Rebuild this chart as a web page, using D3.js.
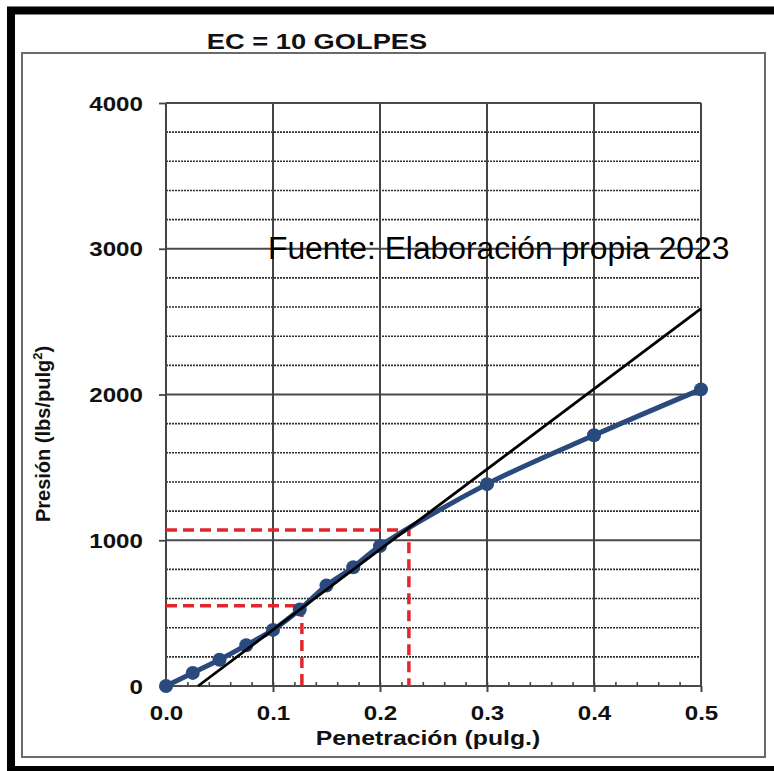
<!DOCTYPE html>
<html>
<head>
<meta charset="utf-8">
<script src="https://cdn.jsdelivr.net/npm/d3@7"></script>
<style>
  html, body { margin: 0; padding: 0; background: #fff; }
  svg { display: block; font-family: 'Liberation Sans', Arial, sans-serif; }
</style>
</head>
<body>
<div class="chart"></div>
<script>
// values
const penetracion = [0, 0.025, 0.05, 0.075, 0.1, 0.125, 0.15, 0.175, 0.2, 0.3, 0.4, 0.5]
const presion = [0, 90, 180, 280, 385, 525, 690, 815, 960, 1385, 1720, 2035]
const tangenteX = [0.03, 0.5]
const tangenteY = [0, 2590]
// red dashed correction marks: [penetration, pressure]
const marcas = [[0.127, 550], [0.227, 1070]]
const xTicks = [0, 0.1, 0.2, 0.3, 0.4, 0.5]
const yTicks = [0, 1000, 2000, 3000, 4000]

const title = 'EC = 10 GOLPES'
const xTitle = 'Penetración (pulg.)'
const fuente = 'Fuente: Elaboración propia 2023'

;(function init() {
  const width = 774
  const height = 771
  const plot = { left: 166, right: 701, top: 103, bottom: 686 }
  const stretch = 1.24 // the source image is a little wider than tall
  const blue = '#2a4a7d'
  const red = '#e3262c'

  const x = d3.scaleLinear().domain([0, 0.5]).range([plot.left, plot.right])
  const y = d3.scaleLinear().domain([0, 4000]).range([plot.bottom, plot.top])

  const svg = d3
    .select('.chart')
    .append('svg')
    .attr('width', width)
    .attr('height', height)
    .attr('viewBox', [0, 0, width, height])

  // frames
  svg
    .append('rect')
    .attr('x', 11)
    .attr('y', 10.5)
    .attr('width', 820)
    .attr('height', 759.5)
    .attr('fill', 'none')
    .attr('stroke', '#000')
    .attr('stroke-width', 8)

  svg
    .append('rect')
    .attr('x', 22)
    .attr('y', 53)
    .attr('width', 743)
    .attr('height', 704)
    .attr('fill', 'none')
    .attr('stroke', '#6a6a6a')
    .attr('stroke-width', 2)

  const grid = svg.append('g')

  const yMinor = d3.range(200, 4000, 200).filter((v) => v % 1000 !== 0)
  grid
    .selectAll('.minor')
    .data(yMinor)
    .enter()
    .append('line')
    .attr('x1', plot.left)
    .attr('x2', plot.right)
    .attr('y1', (d) => y(d))
    .attr('y2', (d) => y(d))
    .attr('stroke', '#2e2e2e')
    .attr('stroke-width', 1.6)
    .attr('stroke-dasharray', '2,1')

  grid
    .selectAll('.major')
    .data(yTicks)
    .enter()
    .append('line')
    .attr('x1', plot.left)
    .attr('x2', plot.right)
    .attr('y1', (d) => y(d))
    .attr('y2', (d) => y(d))
    .attr('stroke', '#4a4a4a')
    .attr('stroke-width', 1.8)

  grid
    .selectAll('.vert')
    .data(xTicks)
    .enter()
    .append('line')
    .attr('x1', (d) => x(d))
    .attr('x2', (d) => x(d))
    .attr('y1', plot.top)
    .attr('y2', plot.bottom)
    .attr('stroke', '#444')
    .attr('stroke-width', 2)

  // axes
  const yAxis = svg
    .append('g')
    .attr('transform', `translate(${plot.left},0)`)
    .call(d3.axisLeft(y).tickValues(yTicks).tickSizeInner(7).tickSizeOuter(0).tickFormat(d3.format('d')))
  yAxis.select('.domain').remove()
  yAxis.selectAll('line').attr('stroke', '#444').attr('stroke-width', 1.8)
  yAxis
    .selectAll('text')
    .attr('x', null)
    .attr('dy', null)
    .attr('transform', `translate(-23,7) scale(${stretch},1)`)
    .attr('font-family', "'Liberation Sans', Arial, sans-serif")
    .attr('font-size', 19.5)
    .attr('font-weight', 'bold')
    .attr('fill', '#111')

  const xAxis = svg
    .append('g')
    .attr('transform', `translate(0,${plot.bottom})`)
    .call(d3.axisBottom(x).tickValues(xTicks).tickSizeInner(6).tickSizeOuter(0).tickFormat(d3.format('.1f')))
  xAxis.select('.domain').remove()
  xAxis.selectAll('line').attr('stroke', '#444').attr('stroke-width', 2)
  xAxis
    .selectAll('text')
    .attr('y', null)
    .attr('dy', null)
    .attr('transform', `translate(0,34) scale(${stretch},1)`)
    .attr('font-family', "'Liberation Sans', Arial, sans-serif")
    .attr('font-size', 19.5)
    .attr('font-weight', 'bold')
    .attr('fill', '#111')

  const xMinor = d3.range(0.02, 0.5, 0.02)
  const minorAxis = svg
    .append('g')
    .attr('transform', `translate(0,${plot.bottom})`)
    .call(d3.axisBottom(x).tickValues(xMinor).tickSizeInner(-4).tickSizeOuter(0).tickFormat(''))
  minorAxis.select('.domain').remove()
  minorAxis.selectAll('line').attr('stroke', '#444').attr('stroke-width', 1.6)

  // red dashed correction lines
  const marks = svg.append('g')
  marcas.forEach(([px, py]) => {
    marks
      .append('path')
      .attr('d', `M${x(0)},${y(py)}H${x(px)}V${y(0)}`)
      .attr('fill', 'none')
      .attr('stroke', red)
      .attr('stroke-width', 3.5)
      .attr('stroke-dasharray', '11,6')
  })

  // measured curve
  const points = penetracion.map((p, i) => [p, presion[i]])
  const line = d3
    .line()
    .x((d) => x(d[0]))
    .y((d) => y(d[1]))
    .curve(d3.curveCatmullRom.alpha(0.5))

  svg
    .append('path')
    .datum(points)
    .attr('d', line)
    .attr('fill', 'none')
    .attr('stroke', blue)
    .attr('stroke-width', 5)

  svg
    .selectAll('.pt')
    .data(points)
    .enter()
    .append('circle')
    .attr('cx', (d) => x(d[0]))
    .attr('cy', (d) => y(d[1]))
    .attr('r', 7)
    .attr('fill', blue)

  // tangent line
  svg
    .append('path')
    .datum(tangenteX.map((p, i) => [p, tangenteY[i]]))
    .attr('d', d3.line().x((d) => x(d[0])).y((d) => y(d[1])))
    .attr('stroke', '#000')
    .attr('stroke-width', 2.8)

  // titles
  svg
    .append('text')
    .attr('transform', `translate(317,49) scale(${stretch},1)`)
    .attr('text-anchor', 'middle')
    .attr('font-size', 22)
    .attr('font-weight', 'bold')
    .attr('fill', '#111')
    .text(title)

  svg
    .append('text')
    .attr('transform', `translate(428,745) scale(${stretch},1)`)
    .attr('text-anchor', 'middle')
    .attr('font-size', 20)
    .attr('font-weight', 'bold')
    .attr('fill', '#111')
    .text(xTitle)

  const yTitle = svg
    .append('text')
    .attr('transform', 'translate(50,434) rotate(-90)')
    .attr('text-anchor', 'middle')
    .attr('font-size', 20)
    .attr('font-weight', 'bold')
    .attr('fill', '#111')
  yTitle.append('tspan').text('Presión (lbs/pulg')
  yTitle.append('tspan').attr('font-size', 13).attr('dy', -8).text('2')
  yTitle.append('tspan').attr('dy', 8).text(')')

  svg
    .append('text')
    .attr('x', 268)
    .attr('y', 259)
    .attr('font-size', 31.8)
    .attr('fill', '#000')
    .text(fuente)
})()
</script>
</body>
</html>
